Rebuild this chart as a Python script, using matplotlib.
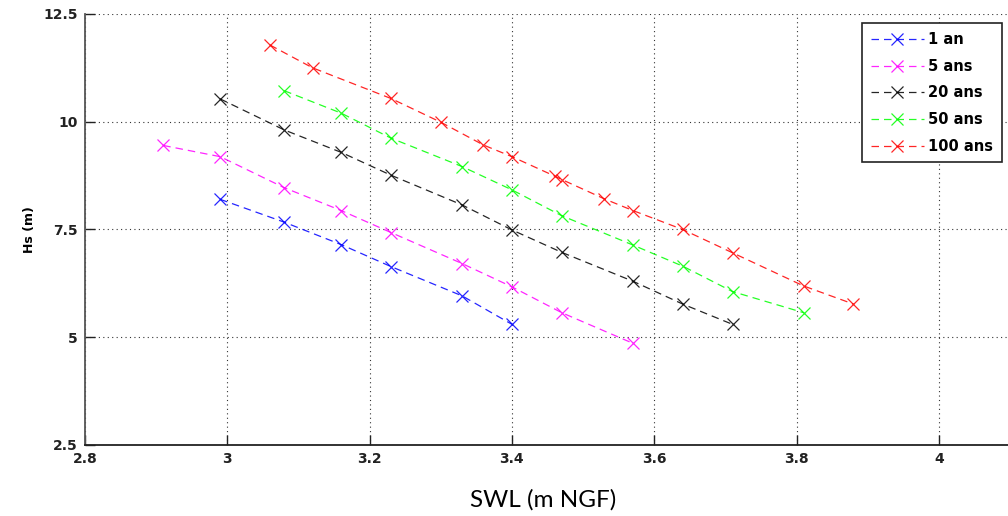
import matplotlib
matplotlib.use("Agg")
import matplotlib.pyplot as plt

# Data
x_1an = [2.99, 3.08, 3.16, 3.23, 3.33, 3.40]
y_1an = [8.20, 7.67, 7.15, 6.64, 5.96, 5.30]

x_5ans = [2.91, 2.99, 3.08, 3.16, 3.23, 3.33, 3.40, 3.47, 3.57]
y_5ans = [9.45, 9.19, 8.47, 7.94, 7.43, 6.71, 6.17, 5.57, 4.86]

x_20ans = [2.99, 3.08, 3.16, 3.23, 3.33, 3.40, 3.47, 3.57, 3.64, 3.71]
y_20ans = [10.53, 9.81, 9.29, 8.76, 8.07, 7.49, 6.97, 6.30, 5.77, 5.30]

x_50ans = [3.08, 3.16, 3.23, 3.33, 3.40, 3.47, 3.57, 3.64, 3.71, 3.81]
y_50ans = [10.72, 10.20, 9.62, 8.96, 8.42, 7.82, 7.14, 6.65, 6.06, 5.57]

x_100ans = [3.06, 3.12, 3.23, 3.30, 3.36, 3.40, 3.46, 3.47, 3.53, 3.57, 3.64, 3.71, 3.81, 3.88]
y_100ans = [11.78, 11.25, 10.54, 9.99, 9.46, 9.19, 8.74, 8.66, 8.21, 7.94, 7.50, 6.96, 6.19, 5.77]

labels = ["1 an", "5 ans", "20 ans", "50 ans", "100 ans"]
colors = ["#0000ff", "#ff00ff", "#000000", "#00ff00", "#ff0000"]

xticks = [2.8, 3.0, 3.2, 3.4, 3.6, 3.8, 4.0]
xticklabels = ["2.8", "3", "3.2", "3.4", "3.6", "3.8", "4"]
yticks = [2.5, 5, 7.5, 10, 12.5]
yticklabels = ["2.5", "5", "7.5", "10", "12.5"]

fig = plt.figure(figsize=(10.08, 5.16), dpi=100)
ax = fig.add_axes([85 / 1008, 71 / 516, 925 / 1008, 431 / 516])

series = [(x_1an, y_1an), (x_5ans, y_5ans), (x_20ans, y_20ans),
          (x_50ans, y_50ans), (x_100ans, y_100ans)]
for (xs, ys), lab, col in zip(series, labels, colors):
    ax.plot(xs, ys, linestyle=(0, (6, 4)), color=col, linewidth=0.9,
            marker='x', markersize=8, markeredgewidth=0.9, label=lab, alpha=0.85)

ax.set_xlim(2.8, 4.1)
ax.set_ylim(2.5, 12.5)
ax.set_xticks(xticks)
ax.set_xticklabels(xticklabels, fontsize=10, fontweight='bold')
ax.set_yticks(yticks)
ax.set_yticklabels(yticklabels, fontsize=10, fontweight='bold')
ax.tick_params(direction='in', length=7, width=1, colors='#222222', pad=5)

ax.grid(True, linestyle=(0, (1, 3)), color='#333333', linewidth=0.8)
ax.set_axisbelow(True)

ax.spines['top'].set_visible(False)
ax.spines['right'].set_visible(False)
ax.spines['left'].set_color('#555555')
ax.spines['left'].set_linewidth(1.3)
ax.spines['bottom'].set_color('#222222')
ax.spines['bottom'].set_linewidth(1.3)

fig.text(30 / 1008, 1 - 230 / 516, "Hs (m)", rotation=90, fontsize=9,
         fontweight='bold', ha='center', va='center')
fig.text(543 / 1008, 1 - 500 / 516, "SWL (m NGF)", fontsize=17.5,
         family='Lato', ha='center', va='center')

leg = ax.legend(loc='upper right', bbox_to_anchor=(1001.7 / 1008, 1 - 23.3 / 516),
                bbox_transform=fig.transFigure, borderaxespad=0, fancybox=False,
                framealpha=1, edgecolor='#222222', numpoints=1, handlelength=3.6,
                handletextpad=0.3, labelspacing=0.8, borderpad=0.6,
                prop={'size': 10.5, 'weight': 'bold'})
leg.get_frame().set_linewidth(1.2)

fig.savefig("out.png", dpi=100)
